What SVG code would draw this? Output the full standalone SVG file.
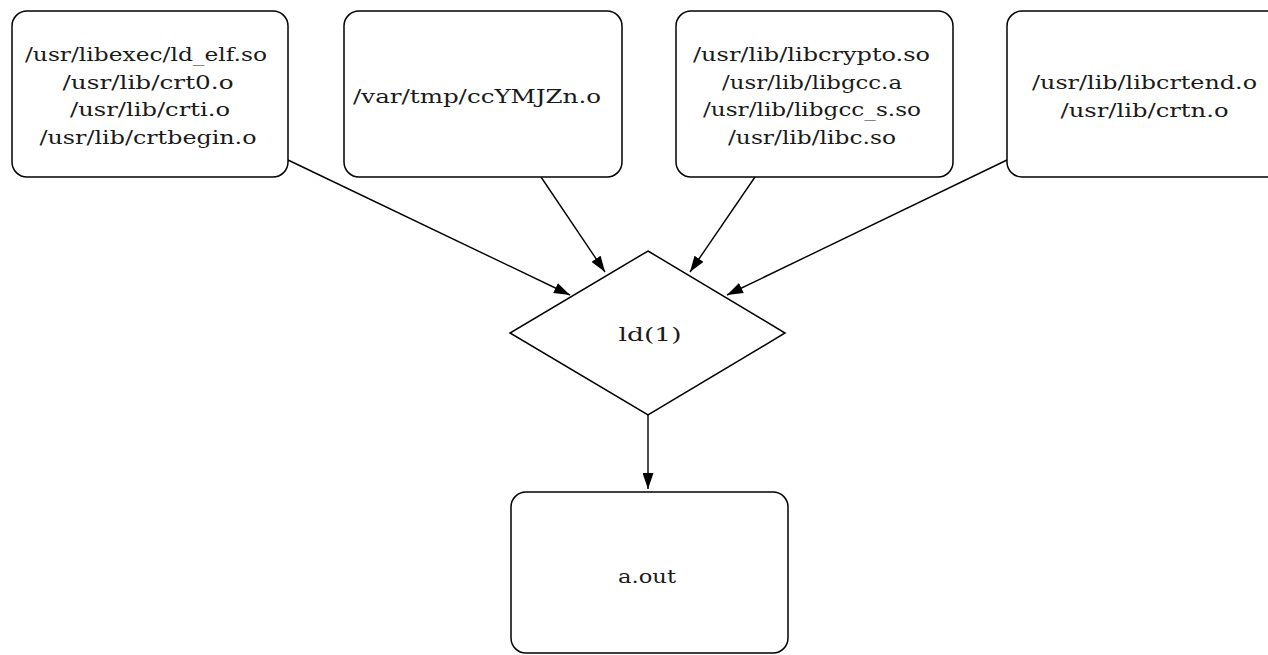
<svg xmlns="http://www.w3.org/2000/svg" width="1268" height="655" viewBox="0 0 1268 655">
<style>
.n{fill:#fff;stroke:#000;stroke-width:1.5}
.t{font-family:"DejaVu Serif","Liberation Serif",serif;font-size:19px;fill:#1a1a1a;text-anchor:middle;dominant-baseline:central}
.e{stroke:#000;stroke-width:1.4;fill:none;marker-end:url(#ah)}
</style>
<defs>
<marker id="ah" viewBox="0 0 16 11" refX="16" refY="5.5" markerWidth="16" markerHeight="11" markerUnits="userSpaceOnUse" orient="auto">
<path d="M0,0 L16,5.5 L0,11 Z" fill="#000"/>
</marker>
</defs>
<rect width="1268" height="655" fill="#fff"/>
<g id="connectors">
<line class="e" x1="288" y1="160" x2="570" y2="295"/>
<line class="e" x1="541" y1="177" x2="605" y2="272"/>
<line class="e" x1="755" y1="177" x2="690" y2="272"/>
<line class="e" x1="1007" y1="160" x2="727" y2="295"/>
<line class="e" x1="648" y1="415" x2="648" y2="489"/>
</g>
<g id="n1">
<rect class="n" x="12" y="11" width="276" height="166" rx="15"/>
<text class="t" x="146" y="54" textLength="242" lengthAdjust="spacingAndGlyphs">/usr/libexec/ld_elf.so</text>
<text class="t" x="148" y="81.5" textLength="171" lengthAdjust="spacingAndGlyphs">/usr/lib/crt0.o</text>
<text class="t" x="150" y="109" textLength="160" lengthAdjust="spacingAndGlyphs">/usr/lib/crti.o</text>
<text class="t" x="148" y="136.5" textLength="217" lengthAdjust="spacingAndGlyphs">/usr/lib/crtbegin.o</text>
</g>
<g id="n2">
<rect class="n" x="344" y="11" width="278" height="166" rx="15"/>
<text class="t" x="477" y="96" textLength="248" lengthAdjust="spacingAndGlyphs">/var/tmp/ccYMJZn.o</text>
</g>
<g id="n3">
<rect class="n" x="676" y="11" width="277" height="166" rx="15"/>
<text class="t" x="811.5" y="54" textLength="237" lengthAdjust="spacingAndGlyphs">/usr/lib/libcrypto.so</text>
<text class="t" x="812" y="81.5" textLength="180" lengthAdjust="spacingAndGlyphs">/usr/lib/libgcc.a</text>
<text class="t" x="812" y="109" textLength="218" lengthAdjust="spacingAndGlyphs">/usr/lib/libgcc_s.so</text>
<text class="t" x="812" y="136.5" textLength="168" lengthAdjust="spacingAndGlyphs">/usr/lib/libc.so</text>
</g>
<g id="n4">
<rect class="n" x="1007" y="11" width="277" height="166" rx="15"/>
<text class="t" x="1144.5" y="82" textLength="225" lengthAdjust="spacingAndGlyphs">/usr/lib/libcrtend.o</text>
<text class="t" x="1144.5" y="109.5" textLength="168" lengthAdjust="spacingAndGlyphs">/usr/lib/crtn.o</text>
</g>
<g id="ld">
<polygon class="n" points="648,251 785,333 648,415 510,333"/>
<text class="t" x="650" y="334" textLength="63" lengthAdjust="spacingAndGlyphs">ld(1)</text>
</g>
<g id="aout">
<rect class="n" x="511" y="492" width="277" height="161" rx="15"/>
<text class="t" x="647" y="576" textLength="58" lengthAdjust="spacingAndGlyphs">a.out</text>
</g>
</svg>
